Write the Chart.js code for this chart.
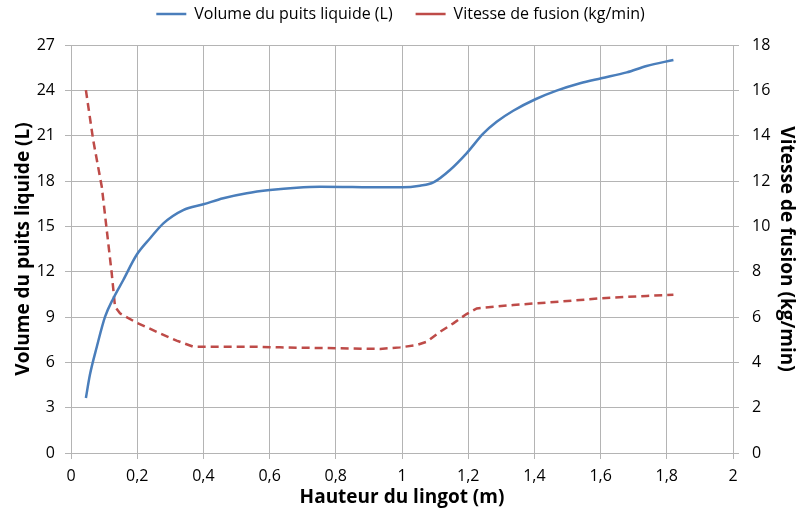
<!DOCTYPE html>
<html lang="fr">
<head>
<meta charset="utf-8">
<title>Volume du puits liquide et vitesse de fusion</title>
<script src="https://cdn.jsdelivr.net/npm/chart.js@4.4.1/dist/chart.umd.min.js"></script>
<style>
  html, body { margin: 0; padding: 0; background: #fff; }
  #wrap { width: 801px; height: 521px; }
</style>
</head>
<body>
<div id="wrap"><canvas id="chartFusion"></canvas></div>
<script>
// hauteur du lingot (m) / volume du puits liquide (L)
var hauteurVolume = [0.045, 0.057, 0.078, 0.103, 0.128, 0.158, 0.198, 0.239, 0.279, 0.339, 0.400,
    0.460, 0.531, 0.601, 0.682, 0.752, 0.850, 0.934, 1.002, 1.054, 1.095, 1.145, 1.195, 1.246,
    1.286, 1.336, 1.403, 1.467, 1.538, 1.602, 1.679, 1.739, 1.820];
var volumeLiquide = [3.64, 5.16, 7.03, 9.02, 10.24, 11.45, 13.10, 14.21, 15.20, 16.08, 16.46,
    16.86, 17.19, 17.40, 17.56, 17.62, 17.60, 17.58, 17.58, 17.69, 17.91, 18.73, 19.83, 21.15,
    21.92, 22.65, 23.41, 23.98, 24.47, 24.80, 25.19, 25.61, 26.01];

// hauteur du lingot (m) / vitesse de fusion (kg/min)
var hauteurVitesse = [0.045, 0.067, 0.093, 0.108, 0.123, 0.133, 0.148, 0.198, 0.269, 0.319, 0.369,
    0.551, 0.631, 0.813, 0.934, 0.994, 1.044, 1.075, 1.115, 1.155, 1.195, 1.226, 1.336, 1.403,
    1.538, 1.602, 1.739, 1.820];
var vitesseFusion = [16.01, 13.81, 11.75, 9.84, 7.93, 6.45, 6.16, 5.75, 5.28, 4.96, 4.69,
    4.69, 4.66, 4.62, 4.59, 4.66, 4.76, 4.91, 5.35, 5.72, 6.13, 6.38, 6.53, 6.60,
    6.75, 6.83, 6.93, 6.98];

// axes
var axeX = { min: 0, max: 2, pas: 0.2 };
var axeVolume = { min: 0, max: 27, pas: 3 };
var axeVitesse = { min: 0, max: 18, pas: 2 };

var bleu = '#4a7ebb';
var rouge = '#be4b48';
var grille = '#b4b4b4';

function points(xs, ys) {
    return xs.map(function(x, i) { return { x: x, y: ys[i] }; });
}

// 0.2 -> "0,2"
function virgule(v) {
    return String(Math.round(v * 10) / 10).replace('.', ',');
}

function largeur(w) {
    return function(scale) { scale.width = w; };
}

// la legende garde une hauteur fixe, le graphique commence juste dessous
var hauteurLegende = {
    id: 'hauteurLegende',
    beforeLayout: function(chart) {
        var legende = chart.legend;
        if (legende && !legende._fitOrigine) {
            legende._fitOrigine = legende.fit;
            legende.fit = function() {
                this._fitOrigine();
                this.height = 62;
            };
        }
    }
};

Chart.defaults.font.family = "'Open Sans', sans-serif";
Chart.defaults.color = '#000';

document.addEventListener('DOMContentLoaded', function() {
    var ctx = document.getElementById('chartFusion').getContext('2d');

    new Chart(ctx, {
        type: 'line',
        data: {
            datasets: [
                {
                    label: 'Volume du puits liquide (L)',
                    data: points(hauteurVolume, volumeLiquide),
                    yAxisID: 'yVolume',
                    borderColor: bleu,
                    backgroundColor: bleu,
                    borderWidth: 2.5,
                    cubicInterpolationMode: 'monotone',
                    pointRadius: 0,
                    fill: false
                },
                {
                    label: 'Vitesse de fusion (kg/min)',
                    data: points(hauteurVitesse, vitesseFusion),
                    yAxisID: 'yVitesse',
                    borderColor: rouge,
                    backgroundColor: rouge,
                    borderWidth: 2.5,
                    borderDash: [8, 5],
                    pointRadius: 0,
                    fill: false
                }
            ]
        },
        options: {
            responsive: true,
            maintainAspectRatio: false,
            animation: false,
            layout: { padding: { top: -17, left: 0, right: 0, bottom: 0 } },
            scales: {
                x: {
                    type: 'linear',
                    min: axeX.min,
                    max: axeX.max,
                    afterFit: function(scale) { scale.height = 68; },
                    ticks: {
                        stepSize: axeX.pas,
                        padding: 8,
                        font: { size: 16 },
                        callback: function(value) { return virgule(value); }
                    },
                    grid: { color: grille, tickLength: 6 },
                    border: { color: grille },
                    title: {
                        display: true,
                        text: 'Hauteur du lingot (m)',
                        font: { size: 19, weight: 'bold' },
                        padding: { top: 0, bottom: 12 }
                    }
                },
                yVolume: {
                    type: 'linear',
                    position: 'left',
                    min: axeVolume.min,
                    max: axeVolume.max,
                    afterFit: largeur(71),
                    ticks: { stepSize: axeVolume.pas, padding: 10, font: { size: 16 } },
                    grid: { color: grille, tickLength: 6 },
                    border: { color: grille },
                    title: {
                        display: true,
                        text: 'Volume du puits liquide (L)',
                        font: { size: 19, weight: 'bold' },
                        padding: { top: 12, bottom: 0 }
                    }
                },
                yVitesse: {
                    type: 'linear',
                    position: 'right',
                    min: axeVitesse.min,
                    max: axeVitesse.max,
                    afterFit: largeur(68),
                    ticks: { stepSize: axeVitesse.pas, padding: 13, font: { size: 16 } },
                    grid: { drawOnChartArea: false, color: grille, tickLength: 6 },
                    border: { color: grille },
                    title: {
                        display: true,
                        text: 'Vitesse de fusion (kg/min)',
                        font: { size: 19, weight: 'bold' },
                        padding: { top: 3, bottom: 0 }
                    }
                }
            },
            plugins: {
                legend: {
                    position: 'top',
                    labels: {
                        usePointStyle: true,
                        pointStyle: 'line',
                        pointStyleWidth: 30,
                        padding: 23,
                        font: { size: 16 }
                    }
                },
                tooltip: { enabled: false }
            }
        },
        plugins: [hauteurLegende]
    });
});
</script>
</body>
</html>
